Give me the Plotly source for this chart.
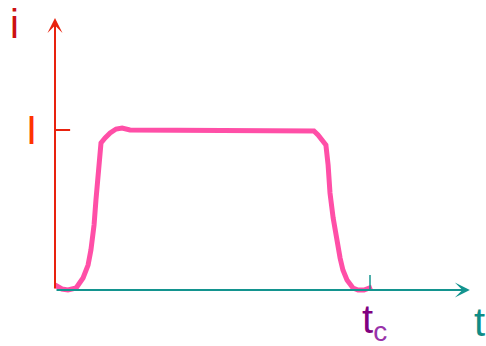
import plotly.graph_objects as go

# Current pulse i(t): t in units of t_c, i in units of I
t_vals = [0.000, 0.022, 0.041, 0.067, 0.089, 0.105, 0.114, 0.124, 0.130, 0.137, 0.143,
          0.146, 0.159, 0.175, 0.194, 0.213, 0.238, 0.810, 0.822, 0.835, 0.848, 0.860,
          0.867, 0.873, 0.883, 0.895, 0.905, 0.914, 0.927, 0.946, 0.962, 0.981, 1.006]
i_vals = [0.031, 0.006, 0.000, 0.0125, 0.075, 0.156, 0.250, 0.406, 0.5625, 0.719, 0.844,
          0.919, 0.950, 0.981, 1.006, 1.0125, 1.000, 1.000, 0.994, 0.969, 0.9375, 0.906,
          0.781, 0.606, 0.450, 0.294, 0.200, 0.125, 0.0625, 0.0125, 0.000, 0.000, 0.019]

I_level = 1.0
t_c = 1.0

FONT = "Arial, Liberation Sans, sans-serif"
RED = "#e8220e"
TEAL = "#13948f"
PINK = "#ff4fa7"

fig = go.Figure()
fig.add_trace(go.Scatter(x=t_vals, y=i_vals, mode="lines",
                         line=dict(color=PINK, width=5), hoverinfo="skip"))

# axes arrows
fig.add_annotation(x=0, y=1.70, ax=0, ay=0, axref="x", ayref="y", xref="x", yref="y",
                   text="", showarrow=True, arrowhead=3, arrowsize=1.25, arrowwidth=2,
                   arrowcolor=RED, standoff=0)
fig.add_annotation(x=1.317, y=0, ax=0, ay=0, axref="x", ayref="y", xref="x", yref="y",
                   text="", showarrow=True, arrowhead=3, arrowsize=1.25, arrowwidth=2,
                   arrowcolor=TEAL, standoff=0)

# ticks
fig.add_shape(type="line", x0=0, x1=0.048, y0=I_level, y1=I_level,
              line=dict(color=RED, width=2))
fig.add_shape(type="line", x0=t_c, x1=t_c, y0=0, y1=0.094,
              line=dict(color=TEAL, width=1.5))

# labels
fig.add_annotation(x=-0.127, y=1.66, xref="x", yref="y", text="i", showarrow=False,
                   font=dict(family=FONT, size=40, color="#cc1111"),
                   xanchor="center", yanchor="middle")
fig.add_annotation(x=-0.076, y=I_level, xref="x", yref="y", text="I", showarrow=False,
                   font=dict(family=FONT, size=40, color="#ff3300"),
                   xanchor="center", yanchor="middle")
fig.add_annotation(x=t_c + 0.013, y=-0.2, xref="x", yref="y",
                   text="<span style='color:#800080'>t</span><sub><span style='color:#9933aa'>c</span></sub>",
                   showarrow=False, font=dict(family=FONT, size=40, color="#800080"),
                   xanchor="center", yanchor="middle")
fig.add_annotation(x=1.347, y=-0.2, xref="x", yref="y", text="t", showarrow=False,
                   font=dict(family=FONT, size=40, color="#0f8c86"),
                   xanchor="center", yanchor="middle")

fig.update_layout(
    width=486, height=346,
    margin=dict(l=0, r=0, t=0, b=0),
    paper_bgcolor="white", plot_bgcolor="white",
    showlegend=False,
    xaxis=dict(range=[-55/315, 431/315], visible=False, fixedrange=True),
    yaxis=dict(range=[-56/160, 290/160], visible=False, fixedrange=True),
)

fig.write_html("out.html", config={"displayModeBar": False},
               post_script="document.body.style.margin='0';document.body.style.overflow='hidden';")
